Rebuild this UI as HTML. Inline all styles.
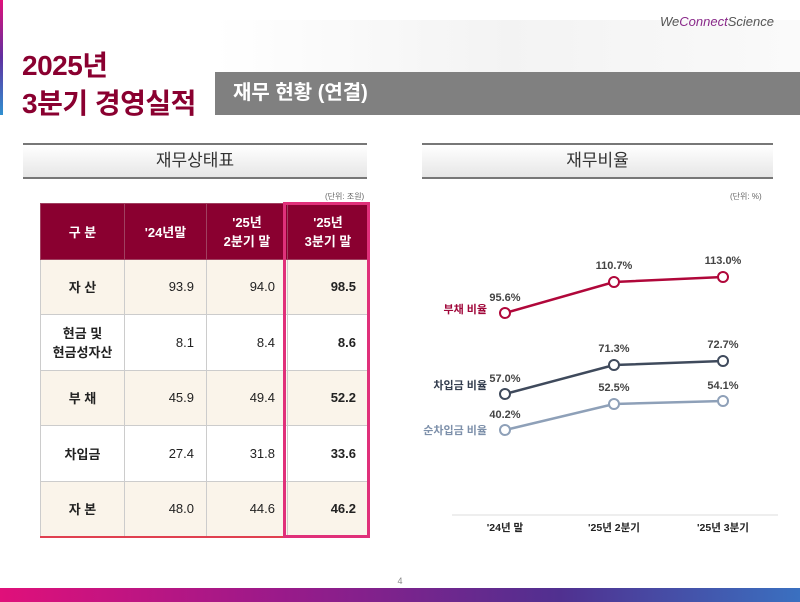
<!DOCTYPE html>
<html><head><meta charset="utf-8"><style>
*{margin:0;padding:0;box-sizing:border-box}
body{width:800px;height:602px;position:relative;background:#fff;font-family:"Liberation Sans","Noto Sans CJK KR",sans-serif;overflow:hidden}
.abs{position:absolute}
.sec{position:absolute;height:36px;border-top:2px solid #777;border-bottom:2px solid #777;background:linear-gradient(#fff,#e6e6e6);text-align:center;font-size:17px;line-height:32px;color:#333}
table{position:absolute;left:40px;top:203px;border-collapse:collapse;font-size:13px}
td{border:1px solid #ccc;height:55.5px;color:#222}
td.l{width:84px;text-align:center;font-weight:bold}
td.n{width:81px;text-align:right;padding-right:12px}
tr.h td{background:#8a0030;color:#fff;font-weight:bold;text-align:center;border-color:#a04060}
tr.c td{background:#faf4ea}
tr.last td{border-bottom:2px solid #e04050}
</style></head><body>
<div class="abs" style="left:0;top:0;width:3px;height:115px;background:linear-gradient(#e0107a,#6030a0,#3090d0)"></div>
<div class="abs" style="left:215px;top:20px;width:585px;height:52px;background:linear-gradient(90deg,#fff,#f3f3f3 50%,#fafafa)"></div>
<div class="abs" style="left:660px;top:14px;font-size:13px;font-style:italic;color:#555">We<span style="color:#8a2a8a">Connect</span>Science</div>
<div class="abs" style="left:22px;top:47px;font-size:28px;font-weight:bold;color:#8a0030;line-height:38px;letter-spacing:-0.5px">2025년<br>3분기 경영실적</div>
<div class="abs" style="left:215px;top:72px;width:585px;height:43px;background:#808080;color:#fff;font-size:20px;font-weight:bold;line-height:43px;padding-left:18px">재무 현황 (연결)</div>
<div class="sec" style="left:23px;top:143px;width:344px">재무상태표</div>
<div class="sec" style="left:422px;top:143px;width:351px">재무비율</div>
<div class="abs" style="left:325px;top:191px;font-size:8px;color:#666">(단위: 조원)</div>
<div class="abs" style="left:730px;top:191px;font-size:8px;color:#666">(단위: %)</div>
<table>
<tr class="h"><td class="l">구 분</td><td style="width:82px">'24년말</td><td style="width:80px">'25년<br>2분기 말</td><td style="width:80px">'25년<br>3분기 말</td></tr>
<tr class="c"><td class="l">자 산</td><td class="n">93.9</td><td class="n">94.0</td><td class="n"><b>98.5</b></td></tr>
<tr><td class="l">현금 및<br>현금성자산</td><td class="n">8.1</td><td class="n">8.4</td><td class="n"><b>8.6</b></td></tr>
<tr class="c"><td class="l">부 채</td><td class="n">45.9</td><td class="n">49.4</td><td class="n"><b>52.2</b></td></tr>
<tr><td class="l">차입금</td><td class="n">27.4</td><td class="n">31.8</td><td class="n"><b>33.6</b></td></tr>
<tr class="c last"><td class="l">자 본</td><td class="n">48.0</td><td class="n">44.6</td><td class="n"><b>46.2</b></td></tr>
</table>
<div class="abs" style="left:283px;top:202px;width:87px;height:336px;border:3px solid #e0307a"></div>
<svg class="abs" style="left:0;top:0" width="800" height="602" font-family="Liberation Sans,Noto Sans CJK KR,sans-serif" font-weight="bold">
<line x1="452" y1="515" x2="778" y2="515" stroke="#ddd" stroke-width="1"/>
<g font-size="10.5" fill="#222" text-anchor="middle"><text x="505" y="531">'24년 말</text><text x="614" y="531">'25년 2분기</text><text x="723" y="531">'25년 3분기</text></g>
<polyline points="505,313 614,282 723,277" fill="none" stroke="#b0073a" stroke-width="2.5"/>
<polyline points="505,394 614,365 723,361" fill="none" stroke="#3f4a5c" stroke-width="2.5"/>
<polyline points="505,430 614,404 723,401" fill="none" stroke="#8ea0b8" stroke-width="2.5"/>
<g fill="#fff" stroke-width="2">
<g stroke="#b0073a"><circle cx="505" cy="313" r="5"/><circle cx="614" cy="282" r="5"/><circle cx="723" cy="277" r="5"/></g>
<g stroke="#3f4a5c"><circle cx="505" cy="394" r="5"/><circle cx="614" cy="365" r="5"/><circle cx="723" cy="361" r="5"/></g>
<g stroke="#8ea0b8"><circle cx="505" cy="430" r="5"/><circle cx="614" cy="404" r="5"/><circle cx="723" cy="401" r="5"/></g>
</g>
<g font-size="11" fill="#444" text-anchor="middle">
<text x="505" y="301">95.6%</text><text x="614" y="269">110.7%</text><text x="723" y="264">113.0%</text>
<text x="505" y="382">57.0%</text><text x="614" y="352">71.3%</text><text x="723" y="348">72.7%</text>
<text x="505" y="418">40.2%</text><text x="614" y="391">52.5%</text><text x="723" y="389">54.1%</text>
</g>
<g font-size="11" text-anchor="end">
<text x="487" y="313" fill="#a0073a">부채 비율</text>
<text x="487" y="389" fill="#333d4e">차입금 비율</text>
<text x="487" y="434" fill="#7d90aa">순차입금 비율</text>
</g>
<text x="400" y="584" font-size="9" font-weight="normal" fill="#888" text-anchor="middle">4</text>
</svg>
<div class="abs" style="left:0;top:588px;width:800px;height:14px;background:linear-gradient(90deg,#e0107a,#9a1a8a 35%,#503090 70%,#3a70c0)"></div>
</body></html>
